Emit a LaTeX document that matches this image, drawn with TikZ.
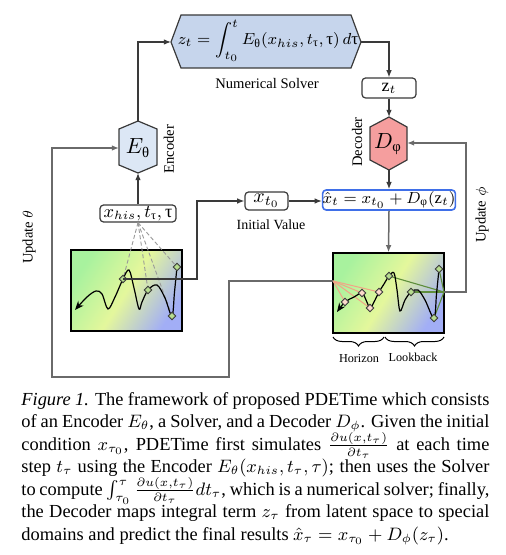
\documentclass[tikz,border=0pt]{standalone}
\usepackage{amsmath}
\usepackage{fontspec}
\setmainfont{Liberation Serif}
\usetikzlibrary{arrows.meta,shapes.geometric,decorations.pathreplacing}
\definecolor{solverfill}{HTML}{C6D5EC}
\definecolor{encfill}{HTML}{DCE7F5}
\definecolor{decfill}{HTML}{F59E9E}
\definecolor{edgec}{HTML}{3A3A3A}
\definecolor{hatblue}{HTML}{3F6FE8}
\definecolor{pgreen}{HTML}{A8F29E}
\definecolor{pyellow}{HTML}{E4F79C}
\definecolor{pblue}{HTML}{A2AEF6}
\definecolor{dgreen}{HTML}{B6DC8E}
\definecolor{dpink}{HTML}{FCDBCB}
\definecolor{lorange}{HTML}{F2A486}
\definecolor{lgreen}{HTML}{5E8E3C}
\definecolor{loopc}{HTML}{6A6A6A}
\newcommand{\uth}{\text{\normalfont θ}}
\newcommand{\utau}{\text{\normalfont τ}}
\newcommand{\uphi}{\text{\normalfont φ}}
\tikzset{
  tipa/.style={-{Latex[length=3.6pt,width=2.8pt]}},
  conn/.style={draw=edgec, line width=0.6pt, tipa},
  loopline/.style={draw=loopc, line width=0.75pt},
  hexline/.style={draw=edgec, line width=0.6pt},
  valbox/.style={draw=edgec, rounded corners=1.8pt, line width=0.6pt, fill=white, inner sep=0pt},
  lab/.style={font=\fontsize{7.3}{8.5}\selectfont, inner sep=0pt},
  panel/.style={draw=black, line width=0.6pt, minimum width=55.5pt, minimum height=40.5pt, inner sep=0pt,
     top color=pgreen, bottom color=pblue, middle color=pyellow, shading angle=58},
  dgr/.style={diamond, draw=edgec, fill=dgreen, line width=0.45pt, minimum size=4pt, inner sep=0pt},
  dpk/.style={diamond, draw=edgec, fill=dpink, line width=0.45pt, minimum size=4pt, inner sep=0pt},
  fanline/.style={draw=gray!80, dash pattern=on 2pt off 1.2pt, line width=0.45pt},
  curvestyle/.style={draw=black, line width=0.6pt, -{Stealth[length=4.5pt,width=3.6pt]}},
  bracestyle/.style={draw=black, line width=0.5pt, decorate, decoration={brace, mirror, amplitude=4.5pt}},
}
\begin{document}
\begin{tikzpicture}[x=0.5pt,y=-0.5pt]
\useasboundingbox (0,0) rectangle (506,555);

% ---- solver hexagon
\coordinate (solL) at (171,42);
\coordinate (solR) at (361,42);
\filldraw[hexline, fill=solverfill] (solL) -- (181,15) -- (351,15) -- (solR) -- (351,68) -- (181,68) -- cycle;
\node[inner sep=0pt, font=\fontsize{8.5}{10}\selectfont] (sol) at (268,41)
  {$z_t = \displaystyle\int_{t_0}^{t} E_{\uth}(x_{his}, t_{\utau}, \utau)\, d\utau$};
\node[lab] (numsolver) at (267,84) {Numerical Solver};

% ---- encoder
\coordinate (encT) at (138,121);
\coordinate (encB) at (138,173);
\coordinate (encL) at (119,148);
\filldraw[hexline, fill=encfill] (encT) -- (157,129) -- (157,165) -- (encB) -- (119,165) -- (119,129) -- cycle;
\node[inner sep=0pt, font=\fontsize{10.5}{12}\selectfont] (enc) at (138,148) {$E_{\uth}$};
\node[lab, rotate=90] (enclab) at (169,149) {Encoder};

% ---- decoder
\coordinate (decT) at (389,117);
\coordinate (decB) at (389,170);
\coordinate (decR) at (407,143);
\filldraw[hexline, fill=decfill] (decT) -- (407,127) -- (407,160) -- (decB) -- (370,160) -- (370,127) -- cycle;
\node[inner sep=0pt, font=\fontsize{10.5}{12}\selectfont] (dec) at (388,144) {$D_{\uphi}$};
\node[lab, rotate=90] (declab) at (357,142) {Decoder};

% ---- value boxes
\node[valbox, minimum width=27pt, minimum height=10pt, font=\fontsize{9}{10}\selectfont] (zt) at (389,88) {$\mathrm{z}_t$};
\node[valbox, minimum width=38pt, minimum height=8.5pt, font=\fontsize{9}{10}\selectfont] (xhis) at (138,213.5) {$x_{his}, t_{\utau}, \utau$};
\node[valbox, minimum width=21.5pt, minimum height=9pt, font=\fontsize{10}{11}\selectfont] (xt0) at (266.5,201) {$x_{t_0}$};
\node[valbox, draw=hatblue, line width=0.8pt, minimum width=59pt, minimum height=10pt, font=\fontsize{8.3}{10}\selectfont] (xhat) at (389,200) {$\hat{x}_t = x_{t_0} + D_{\uphi}(\mathrm{z}_t)$};
\node[lab, font=\fontsize{7}{8}\selectfont] (initval) at (271,225) {Initial Value};

% ---- panels
\node[panel] (lp) at (126.5,290.5) {};
\node[panel, minimum height=40pt] (rp) at (388.5,293) {};
\coordinate (rpL) at (333,281);
\coordinate (rpR) at (444,292);

% left panel diamonds positions
\coordinate (la) at (177,267);
\coordinate (lb) at (172,316);
\coordinate (lc) at (148,290);
\coordinate (ld) at (123,279);

% dashed fan lines
\foreach \t in {la,lb,lc,ld} \draw[fanline] (xhis.south) -- (\t);

% left curve
\draw[curvestyle] plot[smooth, tension=0.55] coordinates {(177,267) (174.5,292) (172,316) (165,298) (157,285) (148,290) (142,302) (139,309) (134,288) (129,270) (123,279) (115,297) (108,309) (102,294) (96,291) (87,297) (75,310)};

\node[dgr] (da) at (la) {};
\node[dgr] (db) at (lb) {};
\node[dgr] (dc) at (lc) {};
\node[dgr] (dd) at (ld) {};

% right panel diamonds
\coordinate (pa) at (345,302);
\coordinate (pb) at (362,293);
\coordinate (pc) at (370,308);
\coordinate (pd) at (379,292);
\coordinate (ga) at (389,276);
\coordinate (gb) at (411,292);
\coordinate (gc) at (434,318);
\coordinate (gd) at (439,269);
\foreach \t in {pa,pb,pc,pd} \draw[draw=lorange, line width=0.5pt] (rpL) -- (\t);
\foreach \t in {ga,gb,gc,gd} \draw[draw=lgreen, line width=0.55pt] (rpR) -- (\t);

\draw[curvestyle] plot[smooth, tension=0.55] coordinates {(439,269) (436.5,294) (434,318) (425,300) (418,290) (411,292) (405,300) (400,311) (397,290) (394,273) (389,276) (384,284) (379,292) (374,302) (370,308) (366,300) (362,293) (354,297) (345,302) (337,312)};

\node[dpk] (qa) at (pa) {};
\node[dpk] (qb) at (pb) {};
\node[dpk] (qc) at (pc) {};
\node[dpk] (qd) at (pd) {};
\node[dgr] (ha) at (ga) {};
\node[dgr] (hb) at (gb) {};
\node[dgr] (hc) at (gc) {};
\node[dgr] (hd) at (gd) {};

% braces
\draw[bracestyle] (333,337) -- (384,337);
\draw[bracestyle] (385,337) -- (444,337);
\node[lab, font=\fontsize{6.1}{7}\selectfont] (horizon) at (359,359) {Horizon};
\node[lab, font=\fontsize{6.1}{7}\selectfont] (lookback) at (413,357) {Lookback};

% ---- connectors
\draw[conn] (encT) |- (solL);
\draw[conn] (solR) -| (zt.north);
\draw[conn] (zt.south) -- (decT);
\draw[conn] (decB) -- (xhat.north);
\draw[conn] (xt0.east) -- (xt0.east -| xhat.west);
\draw[conn] (xhis.north) -- (encB);
\draw[loopline, tipa] (xhat.south) -- (rp.north);
\coordinate (c1) at (197,279);
\draw[conn] (dd.center) -- (c1) |- (xt0.west);
\coordinate (phiA) at (466,292);
\draw[loopline, tipa] (rpR) -- (phiA) |- (decR);
\coordinate (loopA) at (229,377);
\coordinate (loopB) at (52,377);
\draw[loopline, tipa] (rpL) -| (loopA) -- (loopB) |- (encL);

\node[lab, rotate=90] (updtheta) at (29,237) {Update $\theta$};
\node[lab, rotate=90] (updphi) at (482,215) {Update $\phi$};

% ---- caption
\node[anchor=north west, text width=234pt, align=justify, inner sep=0pt, font=\fontsize{9.2}{11.25}\selectfont] (cap) at (21,392)
{\lineskiplimit=-100pt\lineskip=0pt\hyphenpenalty=10000\emergencystretch=20pt
\textit{Figure 1.} The framework of proposed PDETime which consists\linebreak
of an Encoder $E_\theta$, a Solver, and a Decoder $D_\phi$. Given the initial\linebreak
condition $x_{\tau_0}$, PDETime first simulates $\frac{\partial u(x,t_\tau)}{\partial t_\tau}$ at each time\linebreak
step $t_\tau$ using the Encoder $E_\theta(x_{his},t_\tau,\tau)$; then uses the Solver\linebreak
to compute $\int_{\tau_0}^{\tau}\frac{\partial u(x,t_\tau)}{\partial t_\tau}dt_\tau$, which is a numerical solver; finally,\linebreak
the Decoder maps integral term $z_\tau$ from latent space to special\linebreak
domains and predict the final results $\hat{x}_\tau = x_{\tau_0}+D_\phi(z_\tau)$.\par};
\end{tikzpicture}
\end{document}
